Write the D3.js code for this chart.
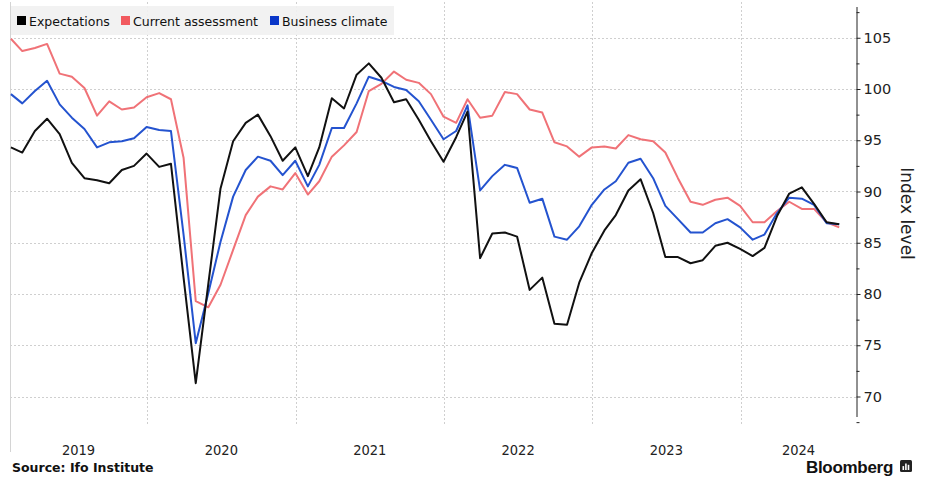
<!DOCTYPE html>
<html>
<head>
<meta charset="utf-8">
<script src="https://cdn.jsdelivr.net/npm/d3@7"></script>
<style>
  html, body { margin: 0; padding: 0; background: #fff; }
  svg { display: block; }
</style>
</head>
<body>
<svg id="chart" width="926" height="477"></svg>
<script>
// ---- Data (monthly, Jan 2019 – Aug 2024) ----
const startYear = 2019;
const startMonth = 0;
const expectations = [
  94.3, 93.8, 95.9, 97.1, 95.6, 92.8, 91.3, 91.1, 90.8, 92.1, 92.5, 93.7,
  92.4, 92.7, 81.6, 71.3, 81.0, 90.3, 94.9, 96.7, 97.5, 95.4, 93.0, 94.3,
  91.5, 94.3, 99.1, 98.1, 101.4, 102.5, 101.1, 98.7, 99.0, 97.0, 94.9, 92.9,
  95.3, 97.8, 83.5, 85.9, 86.0, 85.6, 80.4, 81.6, 77.1, 77.0, 81.1, 84.0,
  86.2, 87.7, 90.1, 91.2, 87.9, 83.6, 83.6, 83.0, 83.3, 84.7, 85.0, 84.4,
  83.7, 84.5, 87.6, 89.8, 90.4, 88.8, 87.0, 86.8
];
const currentAssessment = [
  104.9, 103.7, 104.0, 104.4, 101.5, 101.2, 100.1, 97.4, 98.8, 98.0, 98.2, 99.2,
  99.6, 99.0, 93.3, 79.3, 78.7, 80.9, 84.3, 87.7, 89.5, 90.5, 90.2, 91.8,
  89.7, 91.0, 93.4, 94.5, 95.8, 99.8, 100.5, 101.7, 100.9, 100.6, 99.5, 97.3,
  96.7, 99.0, 97.2, 97.4, 99.7, 99.5, 98.0, 97.7, 94.8, 94.4, 93.4, 94.3,
  94.4, 94.2, 95.5, 95.1, 94.9, 93.8, 91.3, 89.0, 88.7, 89.2, 89.4, 88.6,
  87.0, 87.0, 88.1, 89.0, 88.3, 88.3, 87.0, 86.5
];
const businessClimate = [
  99.5, 98.6, 99.8, 100.8, 98.5, 97.2, 96.1, 94.3, 94.8, 94.9, 95.2, 96.3,
  96.0, 95.9, 85.8, 75.2, 80.1, 85.1, 89.5, 92.1, 93.4, 93.0, 91.6, 93.0,
  90.5, 92.6, 96.2, 96.2, 98.6, 101.2, 100.8, 100.2, 99.9, 98.8, 97.0, 95.1,
  95.9, 98.4, 90.1, 91.5, 92.6, 92.3, 88.9, 89.3, 85.6, 85.3, 86.6, 88.7,
  90.2, 91.0, 92.8, 93.2, 91.3, 88.6, 87.3, 86.0, 86.0, 86.9, 87.3, 86.5,
  85.3, 85.8, 87.9, 89.4, 89.3, 88.7, 86.9, 86.8
];
const seriesNames = ["Expectations", "Current assessment", "Business climate"];
const seriesColors = ["#111111", "#f07277", "#2453cf"];
const legendColors = ["#000000", "#f25a5f", "#0a37c9"];
const yTicks = [70, 75, 80, 85, 90, 95, 100, 105];
const yMinorTicks = [67.5, 72.5, 77.5, 82.5, 87.5, 92.5, 97.5, 102.5, 107.5];
const yearLabels = ["2019", "2020", "2021", "2022", "2023", "2024"];
const yLabel = "Index level";
const sourceText = "Source: Ifo Institute";
const brandText = "Bloomberg";

// ---- Layout ----
const W = 926, H = 477;
const plotLeft = 10, plotRight = 856.5, plotTop = 7, plotBottom = 417;

const svg = d3.select("#chart");

// month-end dates
const dates = expectations.map((_, i) => new Date(startYear, startMonth + i + 1, 0));

const x = d3.scaleTime()
  .domain([new Date(2020, 0, 1), new Date(2024, 0, 1)])
  .range([147, 740.5]);
const y = d3.scaleLinear().domain([68, 108]).range([plotBottom, plotTop]);

// horizontal gridlines
svg.append("g").selectAll("line").data(yTicks).join("line")
  .attr("x1", plotLeft).attr("x2", plotRight)
  .attr("y1", d => Math.round(y(d)) + 0.5).attr("y2", d => Math.round(y(d)) + 0.5)
  .attr("stroke", "#cfcfcf").attr("stroke-width", 1).attr("stroke-dasharray", "2,2");

// vertical year gridlines
const yearBounds = d3.range(2020, 2025).map(yr => new Date(yr, 0, 1));
svg.append("g").selectAll("line").data(yearBounds).join("line")
  .attr("x1", d => Math.round(x(d)) + 0.5).attr("x2", d => Math.round(x(d)) + 0.5)
  .attr("y1", 2).attr("y2", 426)
  .attr("stroke", "#cfcfcf").attr("stroke-width", 1).attr("stroke-dasharray", "2,2");

// left boundary
svg.append("line")
  .attr("x1", plotLeft + 0.5).attr("x2", plotLeft + 0.5)
  .attr("y1", 2).attr("y2", 452)
  .attr("stroke", "#d4d4d4").attr("stroke-width", 1);

// legend background
svg.append("rect")
  .attr("x", plotLeft + 1).attr("y", 6).attr("width", 383).attr("height", 29)
  .attr("fill", "#f1f1f1").attr("opacity", 0.9);

// lines
const line = d3.line().x((d, i) => x(dates[i])).y(d => y(d));
const drawOrder = [
  { data: currentAssessment, color: seriesColors[1] },
  { data: businessClimate, color: seriesColors[2] },
  { data: expectations, color: seriesColors[0] }
];
svg.append("g").selectAll("path").data(drawOrder).join("path")
  .attr("d", d => line(d.data))
  .attr("fill", "none")
  .attr("stroke", d => d.color)
  .attr("stroke-width", 2)
  .attr("stroke-linejoin", "round");

// legend
const legend = svg.append("g").attr("font-family", "DejaVu Sans, Verdana, sans-serif").attr("font-size", 12.5);
const legendX = [17, 121, 270];
seriesNames.forEach((name, i) => {
  legend.append("rect").attr("x", legendX[i]).attr("y", 16).attr("width", 9).attr("height", 9)
    .attr("fill", legendColors[i]);
  legend.append("text").attr("x", legendX[i] + 12).attr("y", 25.5).attr("fill", "#111").text(name);
});

// right axis
const axis = d3.axisRight(y).tickValues(yTicks).tickSize(4).tickPadding(3);
const gAxis = svg.append("g").attr("transform", `translate(${plotRight},0)`).call(axis);
gAxis.select(".domain").attr("stroke", "#222").attr("d", `M0.5,${plotTop}V${plotBottom}`);
gAxis.selectAll(".tick line").attr("stroke", "#222");
gAxis.selectAll(".tick text").attr("font-family", "DejaVu Sans, Verdana, sans-serif")
  .attr("font-size", 14.5).attr("fill", "#222");
const minorAxis = d3.axisRight(y).tickValues(yMinorTicks).tickSize(3).tickFormat("");
const gMinor = svg.append("g").attr("transform", `translate(${plotRight},0)`).call(minorAxis);
gMinor.select(".domain").remove();
gMinor.selectAll(".tick line").attr("stroke", "#222");

// y label
svg.append("text")
  .attr("transform", `translate(901, ${y(90) + 22}) rotate(90)`)
  .attr("text-anchor", "middle")
  .attr("font-family", "DejaVu Sans, Verdana, sans-serif")
  .attr("font-size", 17).attr("fill", "#222")
  .text(yLabel);

// year labels centered in visible span
const xMin = x.invert(plotLeft), xMax = x.invert(plotRight);
svg.append("g").selectAll("text").data(yearLabels).join("text")
  .attr("x", d => {
    const a = new Date(+d, 0, 1), b = new Date(+d + 1, 0, 1);
    const s = a < xMin ? xMin : a, e = b > xMax ? xMax : b;
    return (x(s) + x(e)) / 2;
  })
  .attr("y", 455)
  .attr("text-anchor", "middle")
  .attr("font-family", "DejaVu Sans Condensed, DejaVu Sans, sans-serif")
  .attr("font-stretch", "condensed")
  .attr("font-size", 14.5).attr("fill", "#222")
  .text(d => d);

// source
svg.append("text").attr("x", 12).attr("y", 472)
  .attr("font-family", "DejaVu Sans, Verdana, sans-serif")
  .attr("font-weight", "bold").attr("font-size", 12.5).attr("fill", "#111")
  .text(sourceText);

// brand
svg.append("text").attr("x", 893).attr("y", 473).attr("text-anchor", "end")
  .attr("font-family", "Liberation Sans, Arial, sans-serif")
  .attr("font-weight", "bold").attr("font-size", 17).attr("fill", "#111")
  .attr("letter-spacing", -0.3)
  .text(brandText);
svg.append("rect").attr("x", 900).attr("y", 460).attr("width", 12).attr("height", 12).attr("rx", 1.5).attr("fill", "#222");
svg.append("g").selectAll("rect").data([3, 5, 4]).join("rect")
  .attr("x", (d, i) => 902.5 + i * 2.6).attr("y", d => 470 - d * 1.3).attr("width", 1.6).attr("height", d => d * 1.3)
  .attr("fill", "#fff");
</script>
</body>
</html>
